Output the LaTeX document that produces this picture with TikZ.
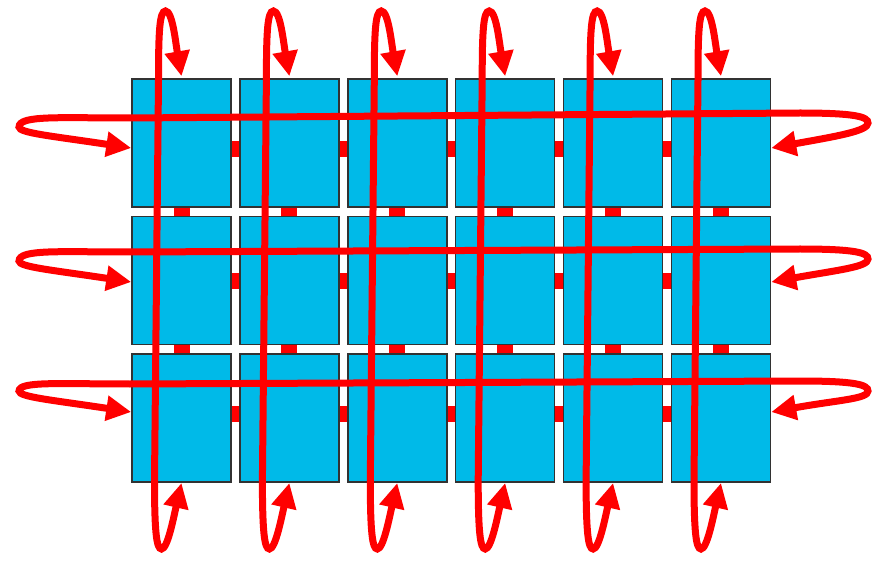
\documentclass[tikz,border=0pt]{standalone}
\usetikzlibrary{arrows.meta}
\definecolor{boxfill}{RGB}{0,186,232}
\definecolor{boxline}{RGB}{50,50,50}
\definecolor{wire}{RGB}{255,0,0}
\tikzset{
  nodebox/.style={draw=boxline, line width=1.5pt, fill=boxfill, minimum width=99pt, minimum height=128pt, inner sep=0pt},
  linkbar/.style={draw=wire, line width=16pt},
  wrap/.style={draw=wire, line width=7pt, {Triangle[length=25pt,width=24pt]}-{Triangle[length=25pt,width=24pt]}}
}
\begin{document}
\begin{tikzpicture}[x=1pt,y=-1pt]
\useasboundingbox (0,0) rectangle (873,561);
% boxes
\foreach \r in {1,2,3}{
  \foreach \c in {1,...,6}{
    \pgfmathsetmacro{\cx}{181.5+107.9*(\c-1)}
    \pgfmathsetmacro{\cy}{143+137.6*(\r-1)}
    \node[nodebox] (b\r\c) at (\cx,\cy) {};
  }
}
% horizontal link bars
\foreach \r/\a in {1/149,2/281,3/414}{
  \foreach \c [evaluate=\c as \n using int(\c+1)] in {1,...,5}{
    \draw[linkbar] (b\r\c.east |- 0,\a) -- (b\r\n.west |- 0,\a);
  }
}
% vertical link bars
\foreach \r [evaluate=\r as \n using int(\r+1)] in {1,2}{
  \foreach \c in {1,...,6}{
    \draw[linkbar] (b\r\c.south) -- (b\n\c.north);
  }
}
% vertical wrap-around links
\foreach \c in {1,...,6}{
  \pgfmathsetmacro{\cx}{181.5+107.9*(\c-1)}
  \draw[wrap] ([yshift=2pt]b1\c.north) .. controls (\cx-6,42) and (\cx-9,11) .. (\cx-16,11)
     .. controls (\cx-22,11) and (\cx-23,32) .. (\cx-23,80)
     -- (\cx-27,480)
     .. controls (\cx-27,532) and (\cx-25,549) .. (\cx-20,549)
     .. controls (\cx-14,549) and (\cx-8,518) .. (b3\c.south);
}
% horizontal wrap-around links
\foreach \r/\a/\L/\R in {1/148/118/113,2/282/252/249,3/412/384/381}{
  \draw[wrap] (b\r1.west |- 0,\a) .. controls (52,\a-12) and (19,\a-15) .. (19,\a-21)
     .. controls (19,\L-3) and (60,\L) .. (130,\L)
     -- (800,\R)
     .. controls (857,\R) and (868,\R+4) .. (868,\R+10)
     .. controls (868,\R+18) and (838,\a-12) .. (b\r6.east |- 0,\a);
}
\end{tikzpicture}
\end{document}
